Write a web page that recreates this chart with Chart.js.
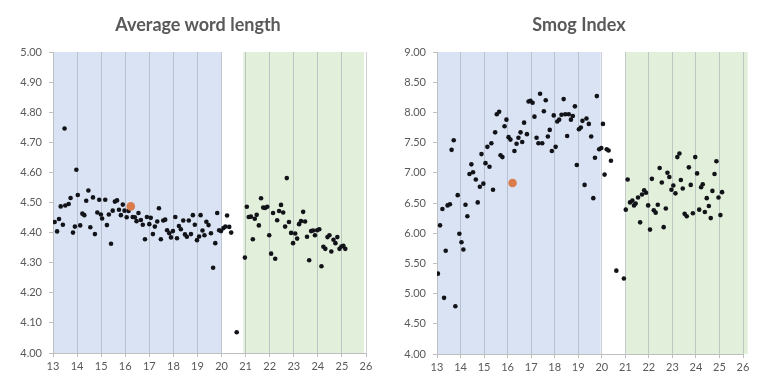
<!DOCTYPE html>
<html>
<head>
<meta charset="utf-8">
<title>Average word length and Smog Index by age</title>
<script src="https://cdn.jsdelivr.net/npm/chart.js@4"></script>
<style>
  body { margin: 0; background: #fff; }
  .wrap { position: relative; display: flex; width: 771px; height: 386px; }
  canvas { display: block; }
  .panel-title {
    position: absolute;
    top: 13px;
    width: 240px;
    margin-left: -120px;
    text-align: center;
    font: bold 18px Lato, "Open Sans", sans-serif;
    line-height: 22px;
    color: #595959;
  }
</style>
</head>
<body>
<div class="wrap">
  <canvas id="wordChart" width="385" height="386"></canvas>
  <canvas id="smogChart" width="386" height="386"></canvas>
  <div class="panel-title" style="left:198px">Average word length</div>
  <div class="panel-title" style="left:579px">Smog Index</div>
</div>
<script>
// age (years) and average word length
const wordAge = [
  13.07, 13.17, 13.25, 13.32, 13.41, 13.48, 13.51, 13.65, 13.73, 13.83, 13.91, 13.97,
  14.03, 14.13, 14.22, 14.30, 14.38, 14.47, 14.55, 14.66, 14.74, 14.84, 14.92, 14.99,
  15.04, 15.17, 15.24, 15.32, 15.41, 15.48, 15.57, 15.66, 15.74, 15.82, 15.90, 15.97,
  16.06, 16.14, 16.31, 16.40, 16.47, 16.55, 16.65, 16.73, 16.82, 16.90, 17.00,
  17.06, 17.15, 17.23, 17.33, 17.40, 17.48, 17.58, 17.66, 17.74, 17.83, 17.90, 17.98,
  18.08, 18.15, 18.23, 18.31, 18.41, 18.48, 18.56, 18.64, 18.73, 18.81, 18.89, 18.98,
  19.07, 19.13, 19.21, 19.29, 19.37, 19.46, 19.56, 19.65, 19.74, 19.82, 19.90, 19.98,
  20.08, 20.16, 20.23, 20.32, 20.40, 20.63,
  20.97, 21.05, 21.13, 21.22, 21.30, 21.38, 21.46, 21.55, 21.64, 21.73, 21.81, 21.90,
  21.98, 22.06, 22.14, 22.23, 22.31, 22.39, 22.47, 22.56, 22.64, 22.71, 22.80, 22.89,
  22.97, 23.06, 23.14, 23.22, 23.30, 23.39, 23.47, 23.55, 23.64, 23.72, 23.80, 23.88,
  23.97, 24.06, 24.15, 24.23, 24.31, 24.40, 24.48, 24.56, 24.65, 24.73, 24.81, 24.90,
  24.98, 25.06, 25.14
];
const wordLen = [
  4.435, 4.404, 4.445, 4.487, 4.426, 4.746, 4.490, 4.495, 4.515, 4.400, 4.420, 4.609,
  4.525, 4.424, 4.463, 4.458, 4.506, 4.540, 4.418, 4.517, 4.395, 4.467, 4.509, 4.460,
  4.447, 4.509, 4.425, 4.460, 4.363, 4.473, 4.503, 4.507, 4.476, 4.458, 4.493, 4.473,
  4.451, 4.472, 4.452, 4.451, 4.438, 4.465, 4.442, 4.426, 4.378, 4.452, 4.428,
  4.449, 4.395, 4.420, 4.437, 4.481, 4.378, 4.440, 4.443, 4.408, 4.398, 4.384, 4.405,
  4.452, 4.381, 4.422, 4.411, 4.440, 4.394, 4.386, 4.440, 4.395, 4.458, 4.426, 4.375,
  4.387, 4.458, 4.407, 4.391, 4.436, 4.425, 4.398, 4.283, 4.365, 4.465, 4.408, 4.405,
  4.415, 4.420, 4.457, 4.419, 4.400, 4.069,
  4.317, 4.486, 4.452, 4.453, 4.378, 4.446, 4.459, 4.424, 4.514, 4.483, 4.482, 4.486,
  4.391, 4.330, 4.465, 4.313, 4.441, 4.472, 4.492, 4.467, 4.420, 4.581, 4.435, 4.399,
  4.365, 4.397, 4.380, 4.428, 4.438, 4.469, 4.437, 4.386, 4.308, 4.405, 4.407, 4.391,
  4.408, 4.411, 4.288, 4.353, 4.346, 4.385, 4.391, 4.337, 4.376, 4.365, 4.385, 4.346,
  4.354, 4.356, 4.346
];
const wordHighlight = [16.23, 4.487];

// age (years) and Smog index
const smogAge = [
  13.04, 13.13, 13.23, 13.30, 13.37, 13.45, 13.55, 13.62, 13.71, 13.78, 13.88, 13.95,
  14.04, 14.12, 14.21, 14.29, 14.38, 14.46, 14.53, 14.65, 14.73, 14.82, 14.89, 14.97,
  15.06, 15.14, 15.23, 15.31, 15.38, 15.47, 15.54, 15.64, 15.70, 15.78, 15.87, 15.95,
  16.04, 16.12, 16.29, 16.38, 16.46, 16.55, 16.62, 16.70, 16.82, 16.89, 16.97,
  17.06, 17.14, 17.23, 17.31, 17.38, 17.47, 17.54, 17.62, 17.71, 17.79, 17.88, 17.96,
  18.04, 18.11, 18.19, 18.29, 18.38, 18.45, 18.53, 18.60, 18.69, 18.77, 18.86, 18.94,
  19.03, 19.11, 19.18, 19.27, 19.35, 19.45, 19.55, 19.64, 19.71, 19.79, 19.89, 19.98,
  20.05, 20.12, 20.21, 20.29, 20.39, 20.62, 20.94,
  21.02, 21.10, 21.20, 21.30, 21.37, 21.44, 21.54, 21.63, 21.71, 21.80, 21.88, 21.97,
  22.05, 22.13, 22.21, 22.29, 22.38, 22.46, 22.55, 22.63, 22.72, 22.79, 22.87, 22.96,
  23.04, 23.13, 23.21, 23.30, 23.36, 23.44, 23.52, 23.61, 23.70, 23.78, 23.87, 23.97,
  24.05, 24.14, 24.22, 24.29, 24.38, 24.46, 24.55, 24.63, 24.70, 24.79, 24.87, 24.96,
  25.04, 25.11
];
const smogIdx = [
  5.33, 6.13, 6.40, 4.93, 5.71, 6.46, 6.48, 7.38, 7.54, 4.79, 6.63, 5.99,
  5.85, 5.73, 6.47, 6.28, 6.98, 7.14, 7.01, 6.89, 6.51, 6.77, 7.31, 6.82,
  7.16, 7.43, 7.10, 7.49, 6.72, 7.67, 7.97, 8.01, 7.29, 7.26, 7.77, 7.88,
  7.59, 7.55, 7.36, 7.48, 7.58, 7.67, 7.51, 7.83, 7.64, 8.18, 8.19,
  8.16, 7.93, 7.58, 7.49, 8.31, 7.49, 8.02, 8.20, 7.60, 7.71, 7.36, 7.95,
  7.43, 7.85, 7.88, 7.96, 8.22, 7.97, 7.61, 7.97, 7.88, 7.94, 8.10, 7.13,
  7.72, 7.75, 7.86, 6.80, 7.90, 7.81, 7.60, 6.58, 7.25, 8.27, 7.39, 7.41,
  7.81, 6.97, 7.39, 7.37, 7.20, 5.38, 5.25,
  6.39, 6.89, 6.51, 6.54, 6.46, 6.49, 6.59, 6.18, 6.64, 6.71, 6.67, 6.46,
  6.06, 6.90, 6.38, 6.34, 6.47, 7.08, 6.84, 6.10, 6.41, 7.00, 6.93, 6.72,
  6.79, 6.66, 7.26, 7.32, 6.88, 6.74, 6.32, 6.28, 7.09, 6.80, 6.33, 7.26,
  6.99, 6.39, 6.76, 6.81, 6.35, 6.58, 6.45, 6.25, 6.70, 6.98, 7.19, 6.59,
  6.30, 6.68
];
const smogHighlight = [16.21, 6.83];

// age ranges of the two shaded phases
const wordPhases = [[13, 20], [20.9, 25.92]];
const smogPhases = [[13, 19.95], [21, 26.2]];
const phaseColors = ['#dae3f3', '#e2efda'];

const textColor = '#595959';
const fontFamily = 'Lato, "Open Sans", sans-serif';

const phasesPlugin = {
  id: 'phases',
  beforeDraw(chart, args, opts) {
    const { ctx, chartArea, scales } = chart;
    ctx.save();
    opts.ranges.forEach((r, i) => {
      const x0 = scales.x.getPixelForValue(r[0]);
      const x1 = scales.x.getPixelForValue(r[1]);
      ctx.fillStyle = phaseColors[i];
      ctx.fillRect(x0, chartArea.top, x1 - x0, chartArea.bottom - chartArea.top);
    });
    ctx.restore();
  }
};

function toPoints(xs, ys) {
  return xs.map((x, i) => ({ x: x, y: ys[i] }));
}

function makeChart(canvas, cfg) {
  return new Chart(canvas, {
    type: 'scatter',
    data: {
      datasets: [
        {
          data: [{ x: cfg.highlight[0], y: cfg.highlight[1] }],
          backgroundColor: '#d97b4a',
          borderWidth: 0,
          pointRadius: 4.3
        },
        {
          data: toPoints(cfg.ages, cfg.values),
          backgroundColor: '#111318',
          borderWidth: 0,
          pointRadius: 2.3
        }
      ]
    },
    options: {
      responsive: false,
      animation: false,
      layout: { padding: { left: 0, right: cfg.padRight, top: cfg.top, bottom: 0 } },
      scales: {
        x: {
          type: 'linear',
          min: 13,
          max: 26,
          afterFit: s => { s.height = cfg.xHeight; },
          ticks: {
            stepSize: 1,
            padding: 3,
            color: textColor,
            font: { family: fontFamily, size: 11 }
          },
          grid: {
            color: 'rgba(140,150,165,0.45)',
            tickColor: '#bfbfbf',
            tickLength: 4
          },
          border: { color: '#bfbfbf' }
        },
        y: {
          min: cfg.yMin,
          max: cfg.yMax,
          afterFit: s => { s.width = cfg.yWidth; },
          ticks: {
            stepSize: cfg.yStep,
            padding: 7,
            color: textColor,
            font: { family: fontFamily, size: 11 },
            callback: v => v.toFixed(2)
          },
          grid: {
            drawOnChartArea: false,
            tickColor: '#bfbfbf',
            tickLength: 4
          },
          border: { color: '#bfbfbf' }
        }
      },
      plugins: {
        legend: { display: false },
        tooltip: { enabled: false },
        title: { display: false },
        phases: { ranges: cfg.phases }
      }
    },
    plugins: [phasesPlugin]
  });
}

makeChart(document.getElementById('wordChart'), {
  ages: wordAge,
  values: wordLen,
  highlight: wordHighlight,
  phases: wordPhases,
  yMin: 4, yMax: 5, yStep: 0.1,
  yWidth: 53, padRight: 19, xHeight: 33, top: 52
});

makeChart(document.getElementById('smogChart'), {
  ages: smogAge,
  values: smogIdx,
  highlight: smogHighlight,
  phases: smogPhases,
  yMin: 4, yMax: 9, yStep: 0.5,
  yWidth: 52, padRight: 28, xHeight: 32, top: 52
});
</script>
</body>
</html>
